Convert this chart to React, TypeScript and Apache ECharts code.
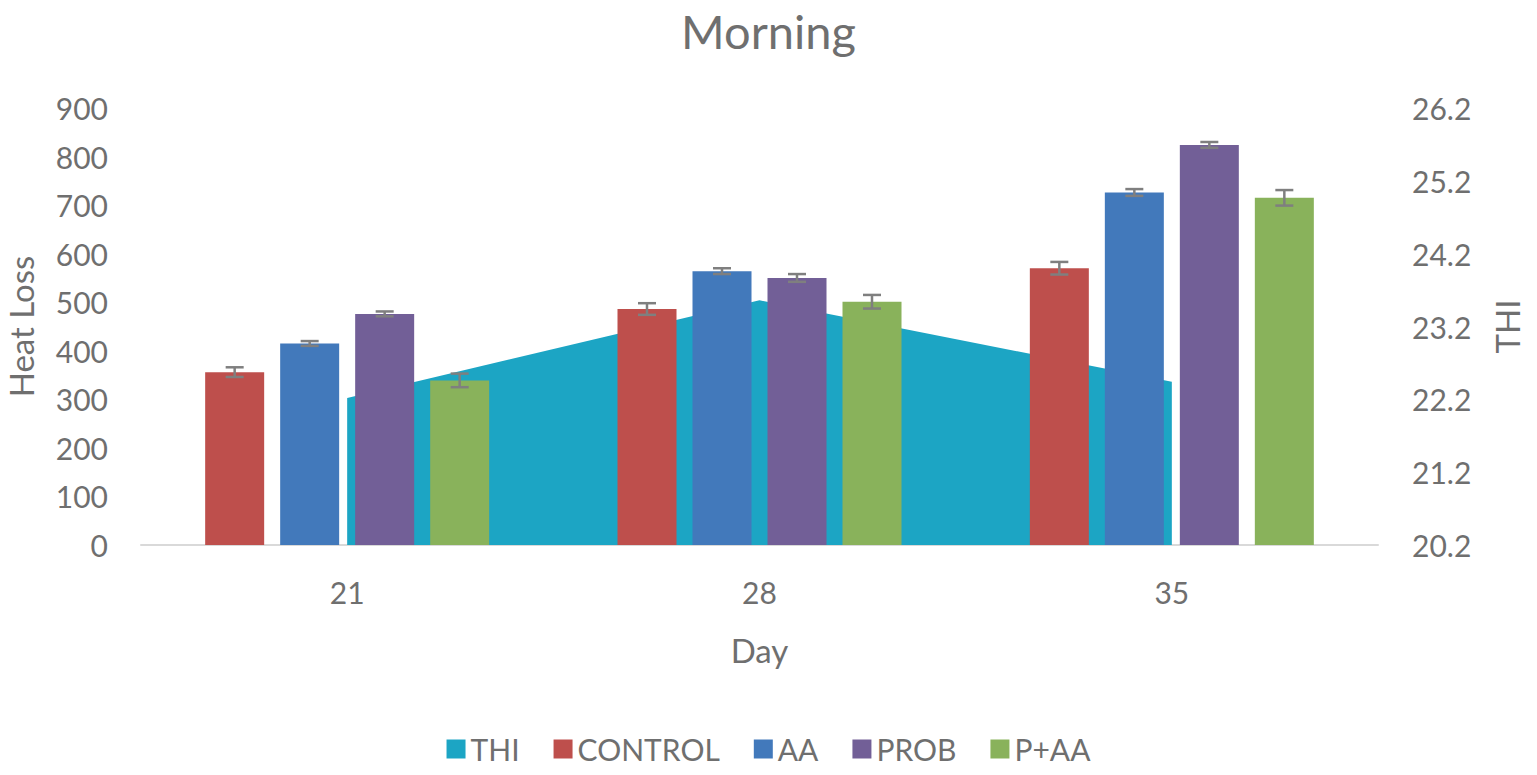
import React, { useEffect, useRef } from "react";
import * as echarts from "echarts";

const days = ["21", "28", "35"];
const thi = [22.22, 23.56, 22.44];
const control = [356, 486, 570];
const aa = [415, 564, 726];
const prob = [476, 550, 824];
const pAA = [339, 501, 715];
const controlErr = [10, 12, 13];
const aaErr = [5, 6, 7];
const probErr = [5, 8, 6];
const pAAErr = [14, 14, 16];
const leftTicks = { min: 0, max: 900, interval: 100 };
const rightTicks = { min: 20.2, max: 26.2, interval: 1 };

const COLORS = {
  thi: "#1CA5C4",
  control: "#BE4F4C",
  aa: "#4279BB",
  prob: "#725F97",
  pAA: "#89B25B",
};

const TEXT = "#6f6f6f";
const FONT = "Lato, 'Open Sans', sans-serif";
const BAR_W = 59;
const STEP = 75;

function errSeries(name: string, vals: number[], errs: number[], idx: number) {
  const offset = (idx - 1.5) * STEP;
  return {
    name: name + "_err",
    type: "custom",
    yAxisIndex: 0,
    z: 5,
    silent: true,
    data: vals.map((v, i) => [i, v, errs[i]]),
    encode: { x: 0, y: 1 },
    renderItem: (params: any, api: any) => {
      const i = api.value(0);
      const v = api.value(1);
      const e = api.value(2);
      const c = api.coord([i, v]);
      const x = c[0] + offset;
      const top = api.coord([i, v + e])[1];
      const bot = api.coord([i, v - e])[1];
      const style = { stroke: "#7f7f7f", lineWidth: 2.5 };
      return {
        type: "group",
        children: [
          { type: "line", shape: { x1: x, y1: top, x2: x, y2: bot }, style },
          { type: "line", shape: { x1: x - 9, y1: top, x2: x + 9, y2: top }, style },
          { type: "line", shape: { x1: x - 9, y1: bot, x2: x + 9, y2: bot }, style },
        ],
      };
    },
  };
}

function barSeries(name: string, vals: number[], color: string) {
  return {
    name,
    type: "bar",
    yAxisIndex: 0,
    barWidth: BAR_W,
    barGap: ((STEP - BAR_W) / BAR_W) * 100 + "%",
    z: 3,
    itemStyle: { color },
    data: vals,
  };
}

export default function App() {
  const ref = useRef<HTMLDivElement>(null);
  useEffect(() => {
    if (!ref.current) return;
    const chart = echarts.init(ref.current, undefined, { renderer: "svg" });
    chart.setOption({
      animation: false,
      textStyle: { fontFamily: FONT, color: TEXT },
      title: {
        text: "Morning",
        left: "center",
        top: 2,
        textStyle: { fontFamily: FONT, color: TEXT, fontSize: 47, fontWeight: "normal" },
      },
      grid: {
        left: 141,
        right: 159,
        top: 108,
        bottom: 230,
        containLabel: false,
        outerBoundsMode: "none",
      },
      legend: {
        bottom: 6,
        left: "center",
        icon: "rect",
        itemWidth: 19,
        itemHeight: 19,
        itemGap: 34,
        textStyle: { fontFamily: FONT, color: TEXT, fontSize: 30 },
        data: ["THI", "CONTROL", "AA", "PROB", "P+AA"],
      },
      xAxis: {
        type: "category",
        data: days,
        boundaryGap: true,
        name: "Day",
        nameLocation: "middle",
        nameGap: 88,
        nameTextStyle: { fontFamily: FONT, color: TEXT, fontSize: 33 },
        axisLine: { lineStyle: { color: "#d9d9d9", width: 2 } },
        axisTick: { show: false },
        axisLabel: { fontFamily: FONT, color: TEXT, fontSize: 30, margin: 32 },
        splitLine: { show: false },
      },
      yAxis: [
        {
          type: "value",
          ...leftTicks,
          name: "Heat Loss",
          nameLocation: "middle",
          nameGap: 104,
          nameTextStyle: { fontFamily: FONT, color: TEXT, fontSize: 33 },
          axisLine: { show: false },
          axisTick: { show: false },
          splitLine: { show: false },
          axisLabel: { fontFamily: FONT, color: TEXT, fontSize: 30, margin: 33 },
        },
        {
          type: "value",
          ...rightTicks,
          position: "right",
          name: "THI",
          nameLocation: "middle",
          nameGap: 112,
          nameRotate: 90,
          nameTextStyle: { fontFamily: FONT, color: TEXT, fontSize: 33 },
          axisLine: { show: false },
          axisTick: { show: false },
          splitLine: { show: false },
          axisLabel: {
            fontFamily: FONT,
            color: TEXT,
            fontSize: 30,
            margin: 34,
            formatter: (v: number) => v.toFixed(1),
          },
        },
      ],
      series: [
        {
          name: "THI",
          type: "line",
          yAxisIndex: 1,
          data: thi,
          showSymbol: false,
          symbol: "none",
          z: 1,
          itemStyle: { color: COLORS.thi },
          lineStyle: { width: 0, color: COLORS.thi },
          areaStyle: { color: COLORS.thi, opacity: 1, origin: "start" },
        },
        barSeries("CONTROL", control, COLORS.control),
        barSeries("AA", aa, COLORS.aa),
        barSeries("PROB", prob, COLORS.prob),
        barSeries("P+AA", pAA, COLORS.pAA),
        errSeries("CONTROL", control, controlErr, 0),
        errSeries("AA", aa, aaErr, 1),
        errSeries("PROB", prob, probErr, 2),
        errSeries("P+AA", pAA, pAAErr, 3),
      ],
    });
    return () => chart.dispose();
  }, []);
  return (
    <div
      ref={ref}
      style={{ position: "absolute", left: 0, top: 0, width: 1537, height: 775, background: "#fff" }}
    />
  );
}
